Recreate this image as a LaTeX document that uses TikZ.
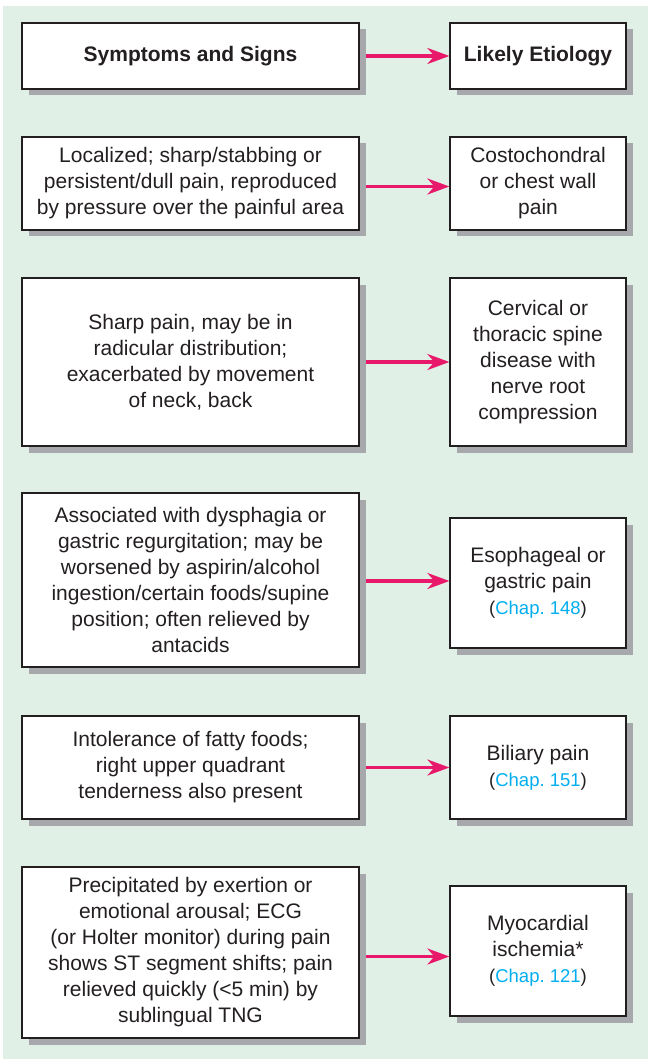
\documentclass[tikz,border=0pt]{standalone}
\usepackage{fontspec}
\setmainfont{Liberation Sans}
\usetikzlibrary{arrows.meta,shadows}
\definecolor{bggreen}{HTML}{E1F0E6}
\definecolor{shadowgray}{HTML}{A6A8AB}
\definecolor{arrowpink}{HTML}{E8186A}
\definecolor{chapblue}{HTML}{00AEEF}
\definecolor{textdark}{HTML}{231F20}
\newcommand{\chapref}[1]{{\fontsize{18.5}{24}\selectfont(\textcolor{chapblue}{Chap.~#1})}}
\begin{document}
\begin{tikzpicture}[x=1pt,y=-1pt,
  box/.style={draw=textdark, line width=1.2pt, fill=white, rectangle, inner sep=0pt,
    align=center, text=textdark, font=\fontsize{21}{26}\selectfont,
    drop shadow={shadow xshift=6.5pt, shadow yshift=-6.5pt, fill=shadowgray, opacity=1}},
  lbox/.style={box, minimum width=337pt},
  rbox/.style={box, minimum width=176pt},
  arr/.style={draw=arrowpink, line width=3.2pt, shorten <=6.5pt,
    -{Stealth[length=22pt, width=16pt, inset=7pt]}}
]
\useasboundingbox (0,0) rectangle (648,1059);
\fill[bggreen] (3,6) rectangle (648,1059);

% Row 1
\node[lbox, minimum height=66pt] (l1) at (190.5,56) {\bfseries Symptoms and Signs};
\node[rbox, minimum height=66pt] (r1) at (538,56) {\bfseries Likely Etiology};

% Row 2
\node[lbox, minimum height=93pt] (l2) at (190.5,183.5) {Localized; sharp/stabbing or\\persistent/dull pain, reproduced\\by pressure over the painful area};
\node[rbox, minimum height=93pt] (r2) at (538,183.5) {Costochondral\\or chest wall\\pain};

% Row 3
\node[lbox, minimum height=168pt] (l3) at (190.5,362) {Sharp pain, may be in\\radicular distribution;\\exacerbated by movement\\of neck, back};
\node[rbox, minimum height=168pt] (r3) at (538,362) {Cervical or\\thoracic spine\\disease with\\nerve root\\compression};

% Row 4
\node[lbox, minimum height=174pt] (l4) at (190.5,580) {Associated with dysphagia or\\gastric regurgitation; may be\\worsened by aspirin/alcohol\\ingestion/certain foods/supine\\position; often relieved by\\antacids};
\node[rbox, minimum height=130pt] (r4) at (538,583) {Esophageal or\\gastric pain\\\chapref{148}};

% Row 5
\node[lbox, minimum height=103pt] (l5) at (190.5,767.5) {Intolerance of fatty foods;\\right upper quadrant\\tenderness also present};
\node[rbox, minimum height=103pt] (r5) at (538,767.5) {Biliary pain\\\chapref{151}};

% Row 6
\node[lbox, minimum height=171pt] (l6) at (190.5,952.5) {Precipitated by exertion or\\emotional arousal; ECG\\(or Holter monitor) during pain\\shows ST segment shifts; pain\\relieved quickly (<5 min) by\\sublingual TNG};
\node[rbox, minimum height=130pt] (r6) at (538,951) {Myocardial\\ischemia*\\\chapref{121}};

% Arrows
\draw[arr] (l1.east) -- (l1.east -| r1.west);
\draw[arr] ([yshift=-3pt]l2.east) -- ([yshift=-3pt]l2.east -| r2.west);
\draw[arr] (l3.east) -- (l3.east -| r3.west);
\draw[arr] ([yshift=-1pt]l4.east) -- ([yshift=-1pt]l4.east -| r4.west);
\draw[arr] (l5.east) -- (l5.east -| r5.west);
\draw[arr] ([yshift=-4pt]l6.east) -- ([yshift=-4pt]l6.east -| r6.west);
\end{tikzpicture}
\end{document}
